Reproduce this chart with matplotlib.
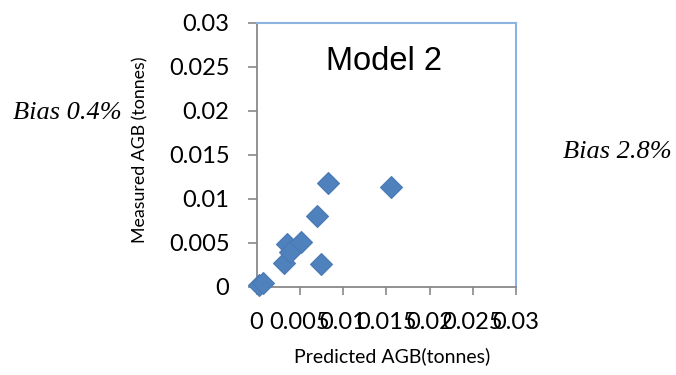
import matplotlib
matplotlib.use("Agg")
import matplotlib.pyplot as plt
from matplotlib.ticker import FixedLocator, FixedFormatter

# Data
predicted = [0.0003, 0.0007, 0.0032, 0.0035, 0.0039, 0.0051, 0.0070, 0.0074, 0.0083, 0.0155]
measured = [0.0002, 0.0004, 0.0027, 0.0049, 0.0040, 0.0051, 0.0080, 0.0026, 0.0118, 0.0113]
tick_values = [0, 0.005, 0.01, 0.015, 0.02, 0.025, 0.03]
tick_labels = ["0", "0.005", "0.01", "0.015", "0.02", "0.025", "0.03"]
title_text = "Model 2"
x_label = "Predicted AGB(tonnes)"
y_label = "Measured AGB (tonnes)"
bias_left = "Bias 0.4%"
bias_right = "Bias 2.8%"

W, H = 676, 375
fig = plt.figure(figsize=(W / 100, H / 100), dpi=100)
fig.patch.set_facecolor("white")

l, r, b, t = 256.5, 516, 286.7, 22.7
ax = fig.add_axes([l / W, 1 - b / H, (r - l) / W, (b - t) / H])

ax.plot(predicted, measured, linestyle="none", marker="D", markersize=10.8,
        markerfacecolor="#4F81BD", markeredgecolor="#4A7AB5", markeredgewidth=0.8,
        clip_on=False, zorder=5)

ax.set_xlim(0, 0.03)
ax.set_ylim(0, 0.03)
ax.xaxis.set_major_locator(FixedLocator(tick_values))
ax.xaxis.set_major_formatter(FixedFormatter(tick_labels))
ax.yaxis.set_major_locator(FixedLocator(tick_values))
ax.yaxis.set_major_formatter(FixedFormatter(tick_labels))

tick_font = dict(family=["Lato", "DejaVu Sans"], size=17)
for lab in ax.get_xticklabels() + ax.get_yticklabels():
    lab.set_fontfamily(tick_font["family"])
    lab.set_fontsize(tick_font["size"])
    lab.set_color("black")

ax.tick_params(axis="x", direction="out", length=6, width=1.2, color="#898989", pad=12)
ax.tick_params(axis="y", direction="out", length=6.5, width=1.2, color="#898989", pad=13)

for side in ("left", "bottom"):
    ax.spines[side].set_color("#898989")
    ax.spines[side].set_linewidth(1.3)
for side in ("top", "right"):
    ax.spines[side].set_color("#8DB3E2")
    ax.spines[side].set_linewidth(1.5)

ax.set_xlabel(x_label, family=["Lato", "DejaVu Sans"], fontsize=14, va="center")
ax.xaxis.set_label_coords((392 - l) / (r - l), (b - 356) / (b - t))
ax.set_ylabel(y_label, family=["Lato", "DejaVu Sans"], fontsize=12.8, va="center")
ax.yaxis.set_label_coords((140 - l) / (r - l), (b - 150) / (b - t))

ax.text((384 - l) / (r - l), (b - 62) / (b - t), title_text, transform=ax.transAxes,
        ha="center", va="center", fontsize=23.5, family=["Liberation Sans", "DejaVu Sans"])

fig.text(13 / W, 1 - 113 / H, bias_left, ha="left", va="center", fontsize=19,
         style="italic", family=["Liberation Serif", "DejaVu Serif"])
fig.text(563 / W, 1 - 152 / H, bias_right, ha="left", va="center", fontsize=19,
         style="italic", family=["Liberation Serif", "DejaVu Serif"])

fig.savefig("out.png", dpi=100, facecolor="white")
